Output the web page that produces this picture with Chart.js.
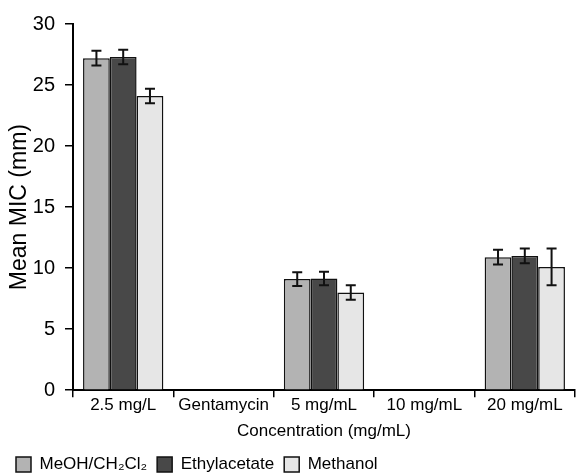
<!DOCTYPE html>
<html lang="en">
<head>
    <meta charset="UTF-8">
    <title>Mean MIC by concentration</title>
    <script src="https://cdn.jsdelivr.net/npm/chart.js"></script>
    <style>
        html, body { margin: 0; padding: 0; background: #fff; }
        #wrap { width: 580px; height: 474px; }
    </style>
</head>
<body>
    <div id="wrap"><canvas id="micChart" width="580" height="474"></canvas></div>
    <script>
        // Dados
        const categories = ['2.5 mg/L', 'Gentamycin', '5 mg/mL', '10 mg/mL', '20 mg/mL'];
        const seriesNames = ['MeOH/CH₂Cl₂', 'Ethylacetate', 'Methanol'];
        const meohCh2cl2 = [27.2, null, 9.1, null, 10.9];
        const ethylacetate = [27.3, null, 9.15, null, 11.0];
        const methanol = [24.1, null, 8.0, null, 10.1];
        const meohCh2cl2Err = [0.6, null, 0.57, null, 0.6];
        const ethylacetateErr = [0.6, null, 0.56, null, 0.6];
        const methanolErr = [0.6, null, 0.6, null, 1.5];
        const yTicks = [0, 5, 10, 15, 20, 25, 30];

        const errors = [meohCh2cl2Err, ethylacetateErr, methanolErr];

        // barras de erro desenhadas pelas escalas do próprio Chart.js
        const errorBars = {
            id: 'errorBars',
            afterDatasetsDraw(chart) {
                const ctx = chart.ctx;
                const yScale = chart.scales.y;
                ctx.save();
                ctx.strokeStyle = '#111';
                ctx.lineWidth = 2;
                chart.data.datasets.forEach(function(ds, i) {
                    const meta = chart.getDatasetMeta(i);
                    meta.data.forEach(function(bar, j) {
                        const v = ds.data[j];
                        const e = errors[i][j];
                        if (v == null || e == null) return;
                        const yTop = yScale.getPixelForValue(v + e);
                        const yBot = yScale.getPixelForValue(v - e);
                        const half = 5;
                        ctx.beginPath();
                        ctx.moveTo(bar.x, yTop);
                        ctx.lineTo(bar.x, yBot);
                        ctx.moveTo(bar.x - half, yTop);
                        ctx.lineTo(bar.x + half, yTop);
                        ctx.moveTo(bar.x - half, yBot);
                        ctx.lineTo(bar.x + half, yBot);
                        ctx.stroke();
                    });
                });
                ctx.restore();
            }
        };

        Chart.defaults.font.family = '"Liberation Sans", Arial, sans-serif';
        Chart.defaults.color = '#000';

        new Chart(document.getElementById('micChart'), {
            type: 'bar',
            data: {
                labels: categories,
                datasets: [{
                    label: seriesNames[0],
                    data: meohCh2cl2,
                    backgroundColor: '#b3b3b3',
                    borderColor: '#111',
                    borderWidth: 1.5
                }, {
                    label: seriesNames[1],
                    data: ethylacetate,
                    backgroundColor: '#484848',
                    borderColor: '#111',
                    borderWidth: 1.5
                }, {
                    label: seriesNames[2],
                    data: methanol,
                    backgroundColor: '#e6e6e6',
                    borderColor: '#111',
                    borderWidth: 1.5
                }]
            },
            options: {
                responsive: false,
                animation: false,
                layout: { padding: { top: 24, right: 5, left: 6, bottom: -9 } },
                datasets: { bar: { categoryPercentage: 0.8, barPercentage: 1.0 } },
                plugins: {
                    tooltip: { enabled: false },
                    legend: {
                        position: 'bottom',
                        align: 'start',
                        labels: {
                            boxWidth: 15,
                            boxHeight: 15,
                            padding: 10,
                            font: { size: 17 },
                            color: '#000'
                        }
                    }
                },
                scales: {
                    x: {
                        grid: { display: true, drawOnChartArea: false, offset: true, tickLength: 7, color: '#000', lineWidth: 1.5 },
                        border: { display: true, color: '#000', width: 2 },
                        ticks: { font: { size: 17 }, padding: -2, maxRotation: 0, autoSkip: false },
                        title: { display: true, text: 'Concentration (mg/mL)', font: { size: 17 }, padding: { top: 8, bottom: 4 } }
                    },
                    y: {
                        min: 0,
                        max: 30,
                        afterBuildTicks(axis) { axis.ticks = yTicks.map(function(v) { return { value: v }; }); },
                        afterFit(axis) { axis.width = 67; },
                        grid: { display: true, drawOnChartArea: false, tickLength: 8, color: '#000', lineWidth: 1.5 },
                        border: { display: true, color: '#000', width: 2 },
                        ticks: { font: { size: 20 }, padding: 10 },
                        title: { display: true, text: 'Mean MIC (mm)', font: { size: 23 }, padding: { top: 0, bottom: 0 } }
                    }
                }
            },
            plugins: [errorBars]
        });
    </script>
</body>
</html>
